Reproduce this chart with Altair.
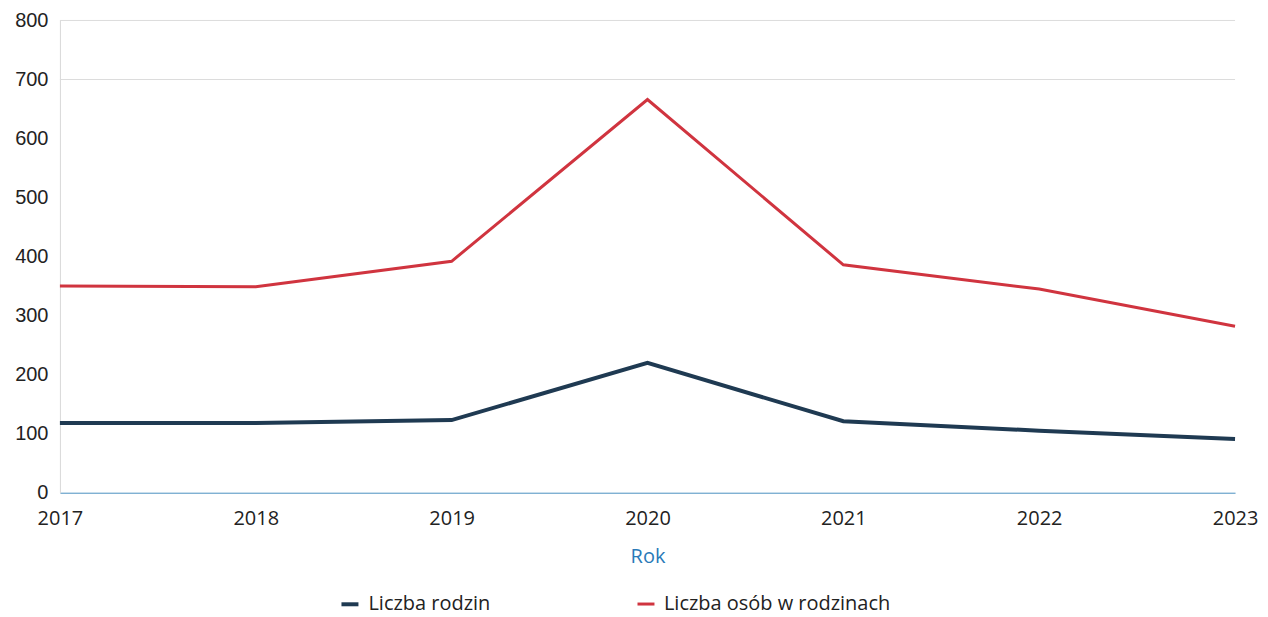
import altair as alt
import pandas as pd

years = ["2017", "2018", "2019", "2020", "2021", "2022", "2023"]
rodziny = [118, 118, 123, 220, 121, 105, 91]
osoby = [350, 349, 392, 666, 386, 345, 282]
series_names = ["Liczba rodzin", "Liczba osób w rodzinach"]
series_colors = ["#1f3a52", "#d0343f"]
y_ticks = [0, 100, 200, 300, 400, 500, 600, 700, 800]
grid_values = [700, 800]

rows = []
for y, v in zip(years, rodziny):
    rows.append({"Rok": y, "value": v, "series": series_names[0]})
for y, v in zip(years, osoby):
    rows.append({"Rok": y, "value": v, "series": series_names[1]})
df = pd.DataFrame(rows)
grid_df = pd.DataFrame({"value": grid_values})

x_enc = alt.X(
    "Rok:O",
    scale=alt.Scale(padding=0),
    axis=alt.Axis(
        title="Rok",
        labelAngle=0,
        ticks=False,
        labelPadding=16,
        labelFont="Open Sans",
        labelFontSize=20,
        labelColor="#222222",
        titleFont="Open Sans",
        titleFontSize=20,
        titleFontWeight="normal",
        titleColor="#2a7ab8",
        titlePadding=18,
        domainColor="#4a90c0",
        domainWidth=1,
        grid=False,
    ),
)

y_scale = alt.Scale(domain=[0, 800], nice=False)
y_axis = alt.Axis(
    title=None,
    values=y_ticks,
    ticks=False,
    labelPadding=12,
    labelFont="Liberation Sans",
    labelFontSize=20,
    labelColor="#222222",
    domainColor="#d8d8d8",
    grid=False,
)

grid = alt.Chart(grid_df).mark_rule(color="#dcdcdc", strokeWidth=1).encode(
    y=alt.Y("value:Q", scale=y_scale, axis=y_axis)
)

lines = alt.Chart(df).mark_line(strokeJoin="miter").encode(
    x=x_enc,
    y=alt.Y("value:Q", scale=y_scale, axis=y_axis),
    color=alt.Color(
        "series:N",
        scale=alt.Scale(domain=series_names, range=series_colors),
        sort=series_names,
        legend=alt.Legend(
            title=None,
            orient="none",
            direction="horizontal",
            legendX=280,
            legendY=574,
            symbolType="stroke",
            symbolSize=289,
            symbolStrokeWidth=5,
            labelFont="Open Sans",
            labelFontSize=20,
            labelColor="#222222",
            labelOffset=8,
            columnPadding=140,
            labelLimit=400,
        ),
    ),
    strokeWidth=alt.StrokeWidth(
        "series:N",
        scale=alt.Scale(domain=series_names, range=[4, 3]),
        legend=None,
    ),
)

chart = (
    alt.layer(grid, lines)
    .properties(
        width=1177,
        height=473,
        background="white",
        autosize=alt.AutoSizeParams(type="none"),
        padding={"left": 52, "top": 12, "right": 25, "bottom": 125},
    )
    .configure_view(strokeWidth=0, stroke="transparent")
    .configure_axis(grid=False)
)

chart.save("out.html", embed_options={"renderer": "svg", "actions": False})
